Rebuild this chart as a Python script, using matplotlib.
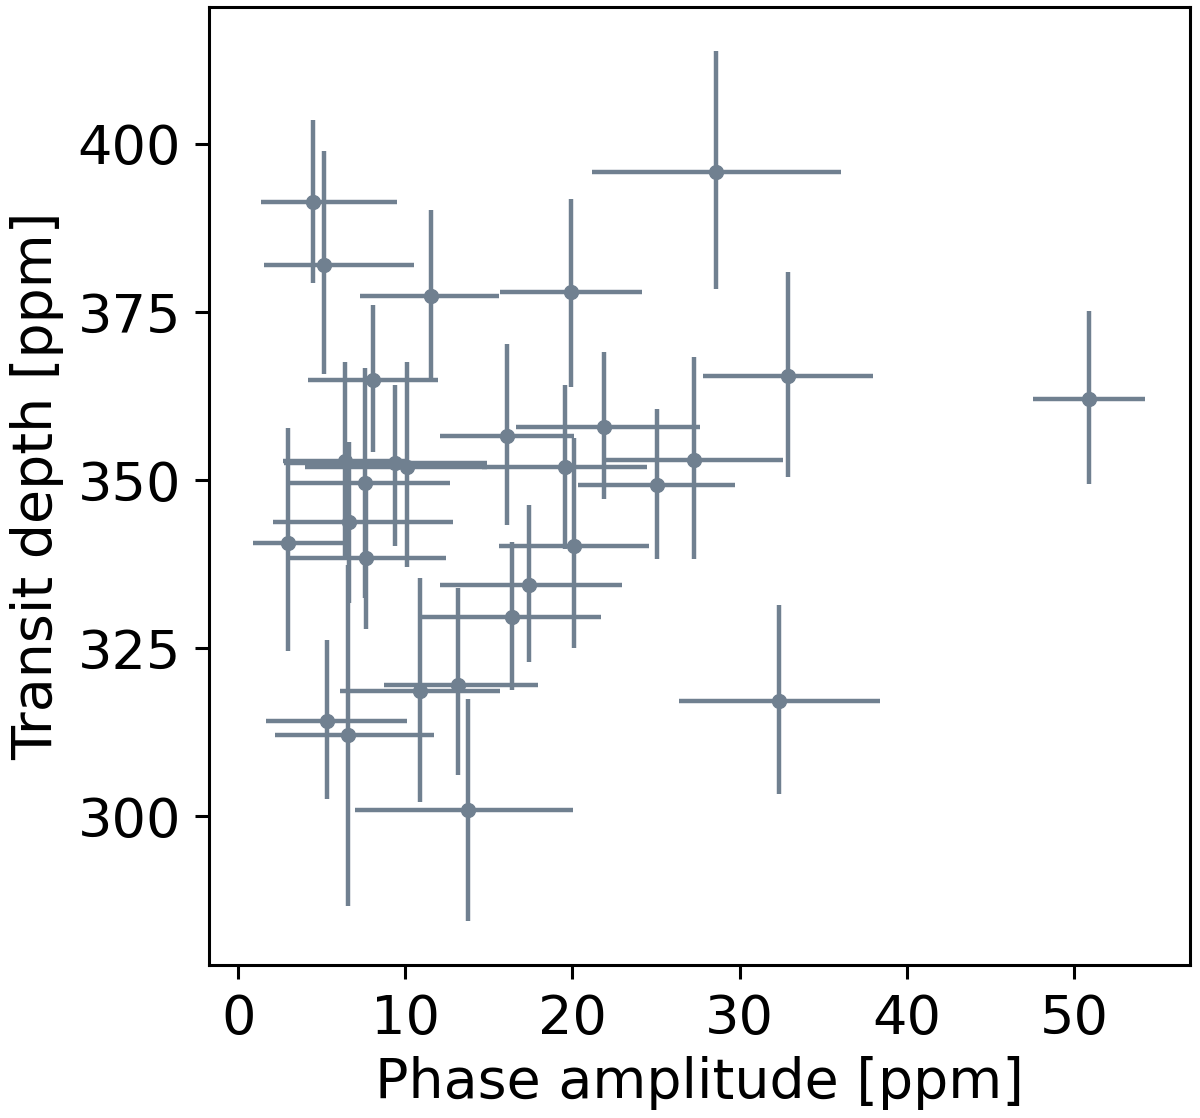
import matplotlib
matplotlib.use("Agg")
import matplotlib.pyplot as plt
import numpy as np

# Phase amplitude [ppm] and asymmetric errors
phase_amp = [4.47, 5.15, 11.55, 19.93, 28.60, 32.90, 50.93, 32.36, 13.76,
             8.04, 16.08, 6.40, 9.40, 10.10, 7.60, 6.60, 2.96, 7.66,
             21.86, 19.57, 20.07, 25.06, 27.25, 17.37, 16.36, 13.18, 10.89,
             5.31, 6.54]
phase_err_lo = [3.11, 3.63, 4.27, 4.25, 7.42, 5.07, 3.35, 5.98, 6.76,
                3.87, 3.99, 3.70, 6.68, 6.09, 4.49, 4.49, 2.05, 4.55,
                5.24, 4.99, 4.49, 4.73, 5.28, 5.28, 5.46, 4.43, 4.79,
                3.63, 4.33]
phase_err_hi = [5.04, 5.37, 4.07, 4.25, 7.48, 5.10, 3.35, 6.04, 6.28,
                3.91, 4.03, 3.70, 5.49, 4.79, 5.09, 6.28, 3.38, 4.77,
                5.79, 4.89, 4.49, 4.64, 5.37, 5.59, 5.37, 4.75, 4.79,
                4.79, 5.15]

# Transit depth [ppm] and errors
depth = [391.4, 382.0, 377.3, 378.0, 395.8, 365.5, 362.05, 317.1, 300.9,
         364.9, 356.6, 352.9, 352.5, 351.9, 349.5, 343.7, 340.7, 338.4,
         357.9, 351.9, 340.2, 349.3, 353.0, 334.4, 329.6, 319.6, 318.6,
         314.2, 312.05]
depth_err_lo = [12.1, 16.2, 12.35, 14.2, 17.4, 15.1, 12.6, 13.7, 16.5,
                10.7, 13.3, 14.6, 12.3, 14.8, 17.1, 12.0, 16.1, 10.6,
                10.65, 12.2, 15.1, 11.0, 14.7, 11.5, 10.8, 13.5, 16.5,
                11.65, 25.4]
depth_err_hi = [12.1, 17.0, 12.9, 13.8, 18.0, 15.4, 13.1, 14.3, 16.5,
                11.1, 13.6, 14.6, 11.7, 15.6, 17.1, 12.0, 17.1, 10.6,
                11.1, 12.3, 16.0, 11.3, 15.3, 11.9, 11.2, 14.4, 16.9,
                12.05, 25.4]

color = "#708090"

fig = plt.figure(figsize=(12, 11.18), dpi=100)
ax = fig.add_axes([0.174, 0.137, 0.8177, 0.8563])

ax.errorbar(phase_amp, depth,
            xerr=[phase_err_lo, phase_err_hi],
            yerr=[depth_err_lo, depth_err_hi],
            fmt="o", color=color, ecolor=color, markersize=10,
            elinewidth=3.2, capsize=0, linestyle="none")

ax.set_xticks([0, 10, 20, 30, 40, 50])
ax.set_yticks([300, 325, 350, 375, 400])
ax.set_xlabel("Phase amplitude [ppm]", fontsize=40, labelpad=8)
ax.set_ylabel("Transit depth [ppm]", fontsize=40, labelpad=10)
ax.tick_params(labelsize=39, length=10, width=2.2, pad=10)
for s in ax.spines.values():
    s.set_linewidth(2.2)

fig.savefig("out.png", dpi=100)
